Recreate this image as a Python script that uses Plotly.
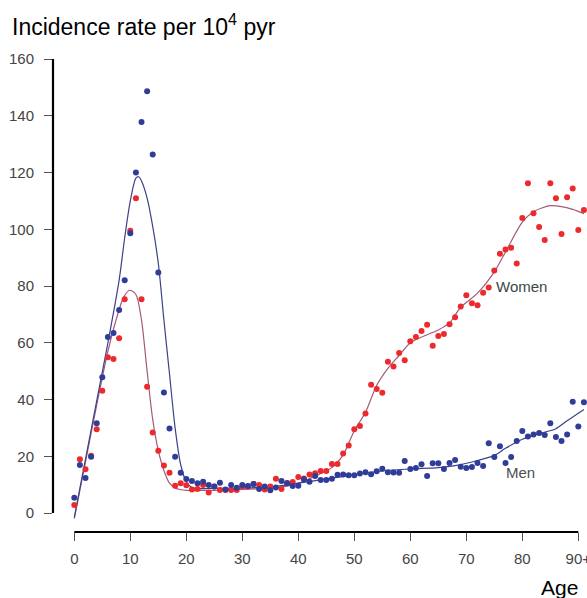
import plotly.graph_objects as go

# ---------------- data ----------------
ages = list(range(0, 92))

men_rate = [5.4, 16.9, 12.3, 19.8, 31.6, 47.8, 62.0, 63.4, 71.5, 82.0,
            98.6, 120.0, 137.8, 148.6, 126.3, 84.8, 42.5, 29.8, 19.8, 14.2,
            12.0, 11.3, 10.5, 11.0, 9.9, 9.3, 10.7, 8.3, 9.9, 8.9,
            9.9, 9.5, 10.2, 8.5, 9.3, 8.0, 9.0, 11.3, 10.5, 9.5,
            9.6, 11.9, 11.0, 13.0, 11.6, 11.6, 12.1, 13.5, 13.6, 13.3,
            13.3, 13.9, 14.4, 13.7, 14.7, 15.6, 14.4, 14.3, 14.2, 18.3,
            15.5, 15.9, 17.2, 13.0, 17.5, 17.5, 15.5, 17.6, 18.7, 16.3,
            15.9, 16.2, 17.6, 16.6, 24.6, 19.7, 23.5, 17.6, 19.7, 25.4,
            28.9, 27.0, 27.7, 28.2, 27.5, 31.6, 26.8, 25.4, 27.7, 39.2,
            30.5, 39.0]

women_rate = [2.8, 18.9, 15.4, 20.2, 29.5, 43.1, 54.9, 54.3, 61.6, 75.3,
              99.5, 110.9, 75.3, 44.5, 28.4, 21.9, 16.7, 14.2, 9.6, 10.5,
              9.8, 8.3, 8.5, 9.9, 7.2, 9.3, 8.1, 8.1, 8.1, 8.1,
              9.3, 9.3, 10.2, 9.9, 8.3, 9.3, 12.1, 8.5, 10.6, 10.9,
              12.7, 12.2, 13.6, 14.0, 14.8, 14.8, 17.3, 17.3, 21.0, 23.8,
              29.5, 30.7, 35.1, 45.2, 43.7, 42.4, 53.3, 51.6, 56.4, 53.8,
              60.5, 62.0, 64.1, 66.3, 58.9, 62.4, 63.1, 66.5, 69.0, 72.8,
              76.7, 73.9, 73.2, 77.6, 79.5, 85.5, 91.4, 92.9, 93.5, 87.9,
              104.0, 116.2, 105.6, 100.8, 96.2, 116.2, 110.9, 98.3, 111.3, 114.4,
              99.7, 106.8]

# smoothed fits
men_fit_age = [0, 2, 4, 6, 8, 9, 10, 11, 11.5, 12, 13, 14, 15, 16, 17, 18, 19, 20,
               21, 22, 25, 30, 35, 40, 45, 50, 55, 60, 65, 68, 72, 75, 77, 80, 83,
               86, 88, 91]
men_fit = [-1.5, 19, 39.5, 60, 82, 97, 110, 118, 118.5, 117, 111, 101, 88, 68, 49,
           30, 17, 11, 9, 8.6, 8.7, 8.8, 9.2, 10.5, 12, 13.5, 14.8, 15.5, 16, 16.7,
           18.5, 20.3, 22.8, 26, 28, 29.7, 32.5, 36.5]

women_fit_age = [0, 2, 4, 6, 7.6, 8.8, 9.9, 11, 12, 13, 14, 15, 16, 17, 18, 19, 20,
                 25, 30, 35, 38, 40, 43, 46, 48, 50, 52, 54, 56, 58, 60, 62, 65, 67,
                 69, 72, 75, 77, 80, 82, 85, 87, 89, 91]
women_fit = [-2, 18, 38, 57, 69, 76, 78.5, 77, 68, 50, 33, 22, 15, 10.5, 8.8, 8.2,
             8.0, 8.0, 8.3, 8.8, 9.5, 10.5, 13, 16, 20.5, 29, 35.5, 45, 51, 55.5,
             60, 62, 64.5, 67, 72.5, 77.5, 85, 92, 102.5, 106.2, 108.3, 108, 107,
             105.5]

x_tick_vals = [0, 10, 20, 30, 40, 50, 60, 70, 80, 90]
x_tick_text = ["0", "10", "20", "30", "40", "50", "60", "70", "80", "90+"]
y_tick_vals = [0, 20, 40, 60, 80, 100, 120, 140, 160]

# ---------------- figure ----------------
FONT = "Liberation Sans, Arial, Helvetica, sans-serif"
RED = "#ec2a2e"
BLUE = "#2f3c98"
W, H = 587, 598

fig = go.Figure()

fig.add_trace(go.Scatter(x=women_fit_age, y=women_fit, mode="lines",
                         line=dict(color="#a45a7c", width=1.2, shape="spline",
                                   smoothing=0.8),
                         hoverinfo="skip", showlegend=False))
fig.add_trace(go.Scatter(x=men_fit_age, y=men_fit, mode="lines",
                         line=dict(color="#3c4188", width=1.2, shape="spline",
                                   smoothing=0.8),
                         hoverinfo="skip", showlegend=False))
fig.add_trace(go.Scatter(x=ages, y=women_rate, mode="markers", name="Women",
                         marker=dict(color=RED, size=6, line=dict(width=0)),
                         cliponaxis=False, showlegend=False))
fig.add_trace(go.Scatter(x=ages, y=men_rate, mode="markers", name="Men",
                         marker=dict(color=BLUE, size=6, line=dict(width=0)),
                         cliponaxis=False, showlegend=False))

axis_common = dict(showgrid=False, zeroline=False, showline=False, automargin=False,
                   ticks="outside", ticklen=8, tickwidth=1, tickcolor="#555555",
                   ticklabeloverflow="allow",
                   tickfont=dict(family=FONT, size=15, color="#444444"))

fig.update_layout(
    width=W, height=H,
    margin=dict(l=53, r=0, t=55, b=66),
    paper_bgcolor="white", plot_bgcolor="white",
    title=dict(text="Incidence rate per 10<sup>4</sup> pyr",
               font=dict(family=FONT, size=23, color="black"),
               x=12 / W, xanchor="left", xref="container",
               y=1 - 27 / H, yanchor="middle", yref="container"),
    xaxis=dict(range=[-3.804, 91.55], tickvals=x_tick_vals, ticktext=x_tick_text,
               ticklabelstandoff=5, **axis_common),
    yaxis=dict(range=[-6.696, 161.41], tickvals=y_tick_vals,
               ticklabelstandoff=7, **axis_common),
    shapes=[
        dict(type="line", xref="x", yref="paper", x0=x_tick_vals[0], x1=x_tick_vals[-1],
             y0=0, y1=0, line=dict(color="black", width=2.2)),
        dict(type="line", xref="paper", yref="y", x0=0, x1=0,
             y0=y_tick_vals[0], y1=y_tick_vals[-1], line=dict(color="black", width=2.2)),
    ],
    annotations=[
        dict(text="Women", xref="x", yref="y", x=74.9, y=79.8, xanchor="left",
             yanchor="middle", showarrow=False,
             font=dict(family=FONT, size=15, color="#3b4848")),
        dict(text="Men", xref="x", yref="y", x=76.8, y=14.4, xanchor="left",
             yanchor="middle", showarrow=False,
             font=dict(family=FONT, size=15, color="#4a5050")),
        dict(text="Age", xref="paper", yref="paper", x=1, y=0, xanchor="right",
             yanchor="middle", yshift=-55, xshift=-7, showarrow=False,
             font=dict(family=FONT, size=21, color="black")),
    ],
)

# remove the page's default body margin so the figure fills the window exactly
fig.write_html("out.html",
               config={"displayModeBar": False},
               post_script="document.body.style.margin='0';"
                           "document.body.style.overflow='hidden';")
